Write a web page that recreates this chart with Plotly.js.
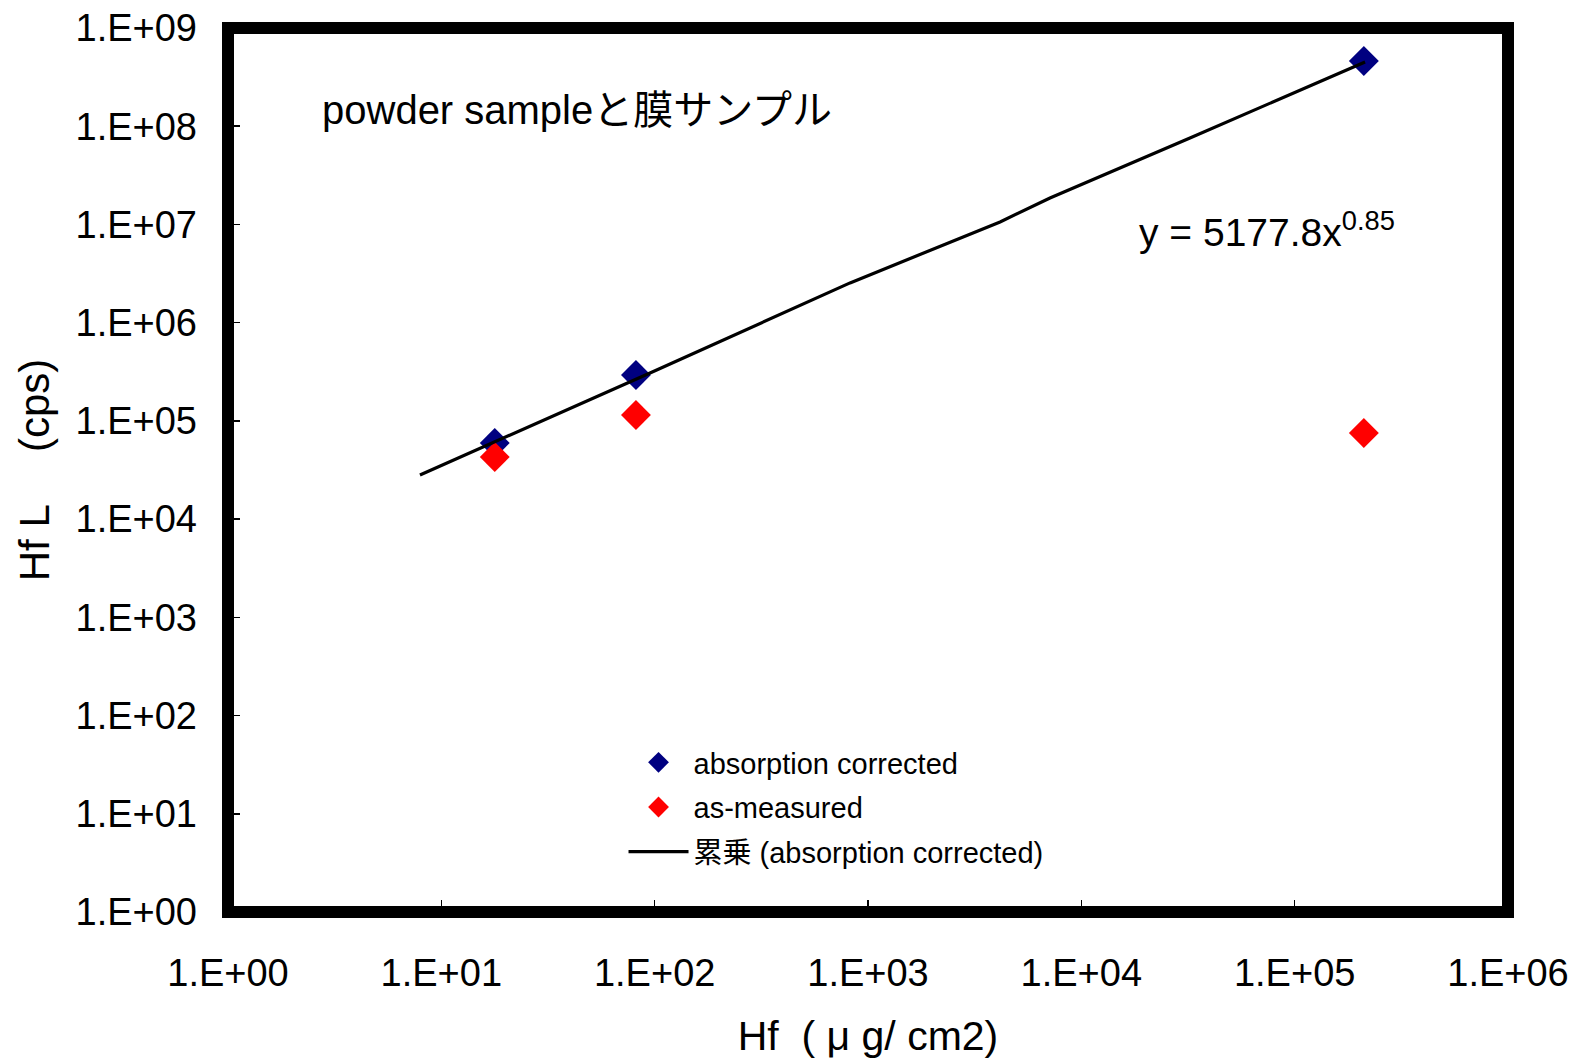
<!DOCTYPE html>
<html>
<head>
<meta charset="utf-8">
<script src="https://cdn.plot.ly/plotly-3.0.1.min.js"></script>
<style>html,body{margin:0;padding:0;background:#fff;}#chart{width:1574px;height:1060px;}</style>
</head>
<body>
<div id="chart"></div>
<script>
// ---- data ----
const hfX = [17.8, 81.7, 211000];
const absorptionCorrected = [59600, 293000, 462000000];
const asMeasured = [42900, 115000, 75300];
const fitX = [7.94, 95.1, 824, 4160, 7130, 32300, 213800];
const fitY = [28100, 307000, 2540000, 10600000, 18600000, 75900000, 451000000];
const xTickVals = [1, 10, 100, 1000, 10000, 100000, 1000000];
const xTickText = ["1.E+00", "1.E+01", "1.E+02", "1.E+03", "1.E+04", "1.E+05", "1.E+06"];
const yTickVals = [1, 10, 100, 1000, 10000, 100000, 1000000, 10000000, 100000000, 1000000000];
const yTickText = ["1.E+00", "1.E+01", "1.E+02", "1.E+03", "1.E+04", "1.E+05", "1.E+06", "1.E+07", "1.E+08", "1.E+09"];
const seriesNames = ["absorption corrected", "as-measured", "累乗 (absorption corrected)"];
const titleText = "powder sampleと膜サンプル";
const equationText = "y = 5177.8x<sup>0.85</sup>";
const xTitle = "Hf  ( μ g/ cm2)";
const yTitle = "Hf L　 (cps)";

const FONT = '"Liberation Sans", Arial, "Noto Sans CJK JP", sans-serif';

const traces = [
  {x: hfX, y: absorptionCorrected, type: 'scatter', mode: 'markers', name: seriesNames[0], legendgroup: 'a',
   marker: {symbol: 'diamond', size: 23, color: '#000080'}},
  {x: hfX, y: asMeasured, type: 'scatter', mode: 'markers', name: seriesNames[1], legendgroup: 'b',
   marker: {symbol: 'diamond', size: 23, color: '#ff0000'}},
  {x: fitX, y: fitY, type: 'scatter', mode: 'lines', name: seriesNames[2], legendgroup: 'c',
   line: {color: '#000000', width: 3.2}}
];

const layout = {
  width: 1574, height: 1060,
  margin: {l: 228, r: 66, t: 28, b: 148},
  paper_bgcolor: '#ffffff', plot_bgcolor: '#ffffff',
  font: {family: FONT, color: '#000000', size: 30},
  showlegend: true,
  legend: {x: 0.309, y: 0.198, xanchor: 'left', yanchor: 'top', bgcolor: 'rgba(0,0,0,0)',
           itemwidth: 60, tracegroupgap: 4, traceorder: 'grouped',
           font: {family: FONT, size: 29, color: '#000'}},
  xaxis: {type: 'log', range: [0, 6], tickvals: xTickVals, ticktext: xTickText,
          showgrid: false, zeroline: false, showline: false,
          ticks: 'inside', ticklen: 12, tickwidth: 1.5, tickcolor: '#000',
          ticklabelstandoff: 35, ticklabeloverflow: 'allow',
          tickfont: {family: FONT, size: 38, color: '#000'},
          title: {text: xTitle, font: {family: FONT, size: 41, color: '#000'}, standoff: 28}},
  yaxis: {type: 'log', range: [0, 9], tickvals: yTickVals, ticktext: yTickText,
          showgrid: false, zeroline: false, showline: false,
          ticks: 'inside', ticklen: 12, tickwidth: 1.5, tickcolor: '#000',
          ticklabelstandoff: 30, ticklabeloverflow: 'allow',
          tickfont: {family: FONT, size: 38, color: '#000'},
          title: {text: yTitle, font: {family: FONT, size: 42, color: '#000'}, standoff: 12}},
  shapes: [{type: 'rect', xref: 'paper', yref: 'paper', x0: 0, x1: 1, y0: 0, y1: 1,
            line: {color: '#000', width: 12}, layer: 'above'}],
  annotations: [
    {text: titleText, xref: 'paper', yref: 'paper', x: 0.072, y: 0.907, xanchor: 'left', yanchor: 'middle',
     showarrow: false, font: {family: FONT, size: 40, color: '#000'}},
    {text: equationText, xref: 'paper', yref: 'paper', x: 0.710, y: 0.772, xanchor: 'left', yanchor: 'middle',
     showarrow: false, font: {family: FONT, size: 39, color: '#000'}}
  ]
};

Plotly.newPlot('chart', traces, layout, {displayModeBar: false, staticPlot: true});
</script>
</body>
</html>
